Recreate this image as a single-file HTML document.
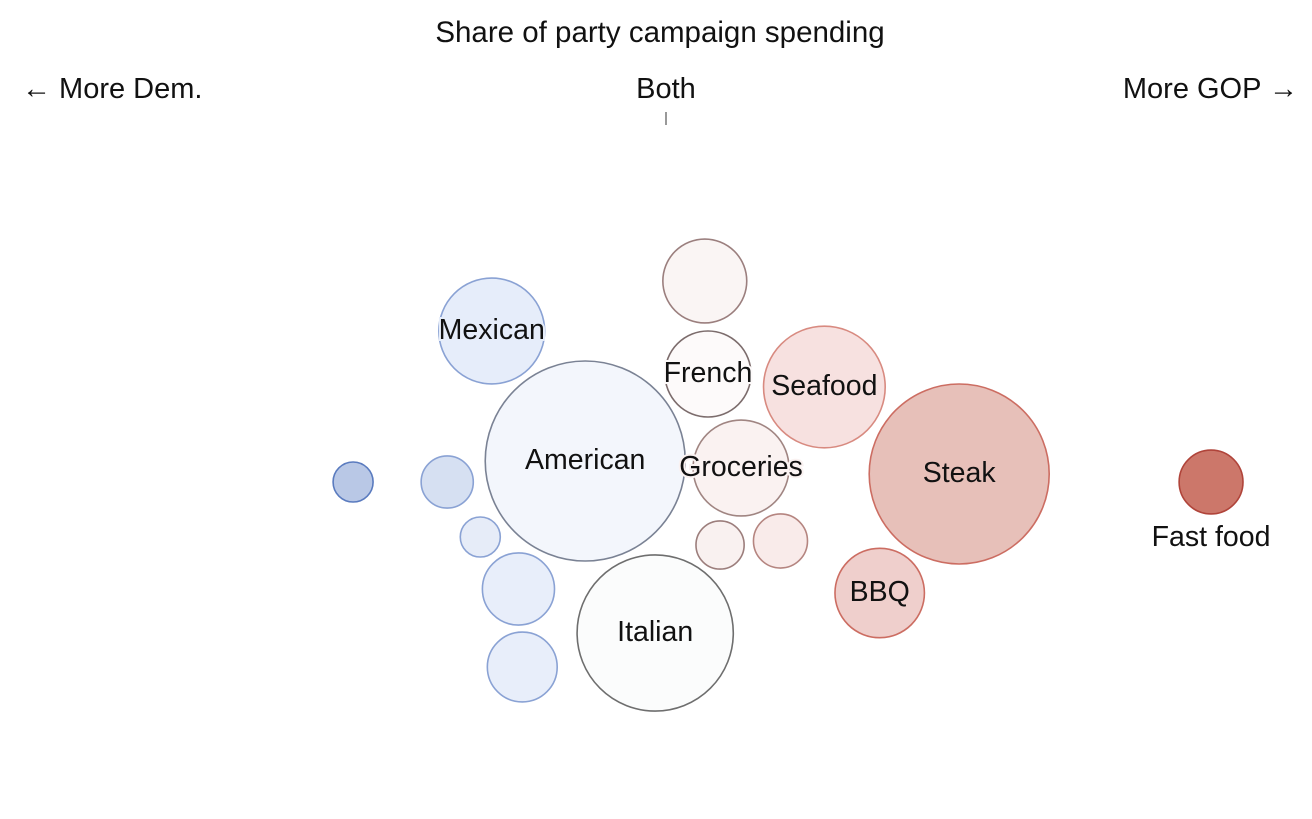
<!DOCTYPE html>
<html><head><meta charset="utf-8">
<style>
html,body{margin:0;padding:0;background:#fff;}
body{width:1312px;height:814px;overflow:hidden;font-family:"Liberation Sans",sans-serif;}
svg text{font-family:"Liberation Sans",sans-serif;fill:#111;}
</style></head>
<body>
<svg id="chart" width="1312" height="814" viewBox="0 0 1312 814">
  <text x="660" y="42" text-anchor="middle" font-size="29.5">Share of party campaign spending</text>
  <text x="22" y="98" font-size="29">← More Dem.</text>
  <text x="666" y="98" text-anchor="middle" font-size="29">Both</text>
  <text x="1298" y="98" text-anchor="end" font-size="29">More GOP →</text>
  <line x1="666" y1="112" x2="666" y2="125" stroke="#333" stroke-width="1"/>
  <g id="bubbles"></g>
  <g id="labels"></g>
</svg>
<script>
const categories = ["", "", "", "", "", "Mexican", "American", "Italian", "", "French", "Groceries", "", "", "Seafood", "Steak", "BBQ", "Fast food"];
const shares = [-49.2, -34.4, -29.2, -23.2, -22.6, -27.4, -12.7, -1.7, 6.1, 6.6, 11.8, 8.5, 18.0, 24.9, 46.1, 33.6, 85.7];
const yOffsets = [21, 21, 76, 128, 206, -130, 0, 172, -180, -87, 7, 84, 80, -74, 13, 132, 21];
const spending = [4, 6.8, 4, 13, 12.2, 28, 100, 61, 17.6, 18.5, 23, 5.8, 7.3, 37, 81, 20, 10.2];
const fills = ["#b9c8e6","#d6e0f2","#e6ecf8","#e8eefa","#e8eefa","#e6edfa","#f3f6fc","#fbfcfc","#faf5f4","#fdfafa","#faf2f1","#f9f1f0","#f9ebea","#f7e1e0","#e7c0b9","#efcfcc","#cc776a"];
const strokes = ["#5a7bbf","#8aa2d4","#8aa2d4","#8aa2d4","#8aa2d4","#8aa2d4","#7a8294","#6e6e6e","#9b7f7e","#7c6c6c","#a08582","#9c7e7c","#b58580","#d88a80","#cc6d62","#cc6d62","#b0443a"];

const xScale = s => 666 + s * 6.36;
const yScale = v => 461 + v;
const rScale = v => 100 * Math.sqrt(v / 100);

const NS = "http://www.w3.org/2000/svg";
const gB = document.getElementById("bubbles");
const gL = document.getElementById("labels");
categories.forEach((c, i) => {
  const cx = xScale(shares[i]), cy = yScale(yOffsets[i]), r = rScale(spending[i]);
  const el = document.createElementNS(NS, "circle");
  el.setAttribute("cx", cx); el.setAttribute("cy", cy); el.setAttribute("r", r);
  el.setAttribute("fill", fills[i]); el.setAttribute("stroke", strokes[i]); el.setAttribute("stroke-width", 1.6);
  
  
  gB.appendChild(el);
  if (c) {
    const t = document.createElementNS(NS, "text");
    t.setAttribute("x", cx);
    t.setAttribute("y", c === "Fast food" ? cy + r + 32 : cy + 8);
    t.setAttribute("text-anchor", "middle");
    t.setAttribute("font-size", "28.5");
    t.setAttribute("paint-order", "stroke");
    t.setAttribute("stroke", c === "Fast food" ? "#fff" : fills[i]);
    t.setAttribute("stroke-width", "4");
    t.textContent = c;
    
    
    gL.appendChild(t);
  }
});
</script>
</body></html>
